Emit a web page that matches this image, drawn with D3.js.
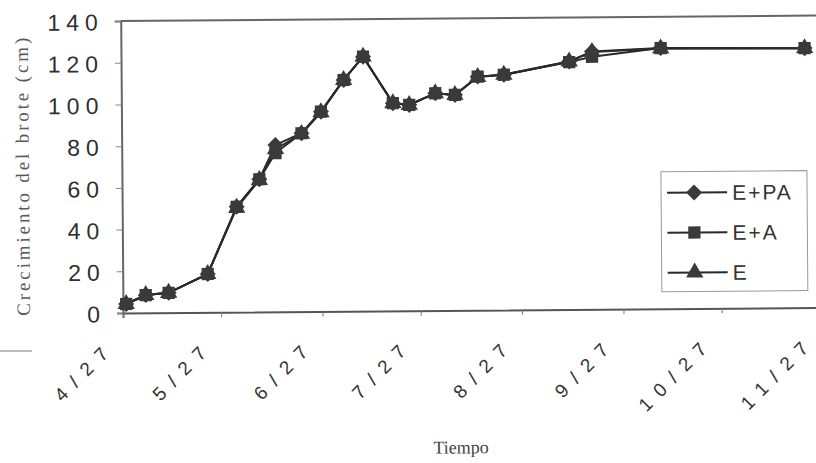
<!DOCTYPE html>
<html><head><meta charset="utf-8">
<script src="https://cdn.jsdelivr.net/npm/d3@7"></script>
<style>
html,body{margin:0;padding:0;background:#fff;}
svg{display:block;}
</style></head>
<body>
<svg id="chart" width="816" height="463"></svg>
<script>
const dates = ["2001-04-28","2001-05-04","2001-05-11","2001-05-23","2001-06-01","2001-06-08","2001-06-13","2001-06-21","2001-06-27","2001-07-04","2001-07-10","2001-07-19","2001-07-24","2001-08-01","2001-08-07","2001-08-14","2001-08-22","2001-09-11","2001-09-18","2001-10-09","2001-11-22"];
const seriesNames = ["E+PA","E+A","E"];
const valuesEPA = [4.3,8.5,9.5,18.4,50.5,63.6,80,85.5,95.8,110.9,122,99.6,98.7,104.2,103.3,112,112.8,118.9,123.6,125,124.4];
const valuesEA  = [4.3,8.5,9.5,18.4,50.5,63.6,76.1,85.5,95.8,110.9,122,99.6,98.7,104.2,103.3,112,112.8,118.6,121.1,125,124.4];
const valuesE   = [4.3,8.5,9.5,18.4,50,63.2,78,85.2,95.5,110.9,122,99.6,98.7,104.2,103.3,111.8,112.8,118.9,123.4,124.8,124.4];
const yTicks = [0,20,40,60,80,100,120,140];
const xTickLabels = ["4/27","5/27","6/27","7/27","8/27","9/27","10/27","11/27"];
const xTickDates = ["2001-04-27","2001-05-27","2001-06-27","2001-07-27","2001-08-27","2001-09-27","2001-10-27","2001-11-27"];
const yTitle = "Crecimiento del brote (cm)";
const xTitle = "Tiempo";

const parse = d3.timeParse("%Y-%m-%d");
const svg = d3.select("#chart");
const L = 123, R = 823, T = 21, B = 313;
const x = d3.scaleTime().domain([parse(xTickDates[0]), parse(xTickDates[xTickDates.length-1])]).range([L, R]);
const y = d3.scaleLinear().domain([0,140]).range([B, T]);

const g = svg.append("g").attr("transform", `rotate(-0.45 ${L} ${B})`);

// stray scan mark
svg.append("line").attr("x1",0).attr("x2",32).attr("y1",351).attr("y2",351)
  .attr("stroke","#bbb").attr("stroke-width",2);

// frame
g.append("line").attr("x1",L).attr("x2",R).attr("y1",T).attr("y2",T).attr("stroke","#666").attr("stroke-width",2);
g.append("line").attr("x1",R).attr("x2",R).attr("y1",T).attr("y2",B).attr("stroke","#666").attr("stroke-width",2);

// y axis
const yAxis = d3.axisLeft(y).tickValues(yTicks).tickSize(6).tickFormat("");
const ya = g.append("g").attr("transform",`translate(${L},0)`).call(yAxis);
ya.select(".domain").attr("stroke","#666").attr("stroke-width",2);
ya.selectAll(".tick line").attr("stroke","#888").attr("stroke-width",1);
g.selectAll(".ylab").data(yTicks).enter().append("text")
  .attr("x",106).attr("y",d=>y(d)+1).attr("dy","0.36em")
  .attr("text-anchor","end")
  .style("font-family","'Liberation Sans', Arial, sans-serif")
  .style("font-size","23px").style("letter-spacing","6px")
  .attr("fill","#2e2e2e").text(d=>d);

// x axis
const xAxis = d3.axisBottom(x).tickValues(xTickDates.map(parse)).tickSize(5).tickFormat("");
const xa = g.append("g").attr("transform",`translate(0,${B})`).call(xAxis);
xa.select(".domain").attr("stroke","#555").attr("stroke-width",2);
xa.selectAll(".tick line").attr("stroke","#777").attr("stroke-width",1);
const xl = g.selectAll(".xlab").data(xTickDates).enter().append("text")
  .attr("transform",(d)=>`translate(${x(parse(d))-14},355) rotate(-45)`)
  .attr("text-anchor","end")
  .style("font-family","'Liberation Sans', Arial, sans-serif")
  .style("font-size","19px")
  .attr("fill","#333");
xl.each(function(d,i){
  const t = d3.select(this);
  xTickLabels[i].split("").forEach((c,k)=>{
    t.append("tspan").attr("dx", k===0?0:10).text(c);
  });
});

// titles
g.append("text").attr("transform","translate(30,176) rotate(-90)")
  .attr("text-anchor","middle")
  .attr("textLength",278).attr("lengthAdjust","spacing")
  .style("font-family","'Liberation Serif', 'Times New Roman', serif")
  .style("font-size","19px").attr("fill","#5a5a5a").text(yTitle);
g.append("text").attr("x",460).attr("y",456).attr("text-anchor","middle")
  .style("font-family","'Liberation Serif', 'Times New Roman', serif")
  .style("font-size","18px").attr("fill","#444").text(xTitle);

// series
const seriesData = [valuesEPA, valuesEA, valuesE];
const markPath = [
  d3.symbol().type(d3.symbolSquare).size(128)(),   // diamond (rotated square)
  d3.symbol().type(d3.symbolSquare).size(150)(),   // square
  d3.symbol().type(d3.symbolTriangle).size(130)()  // triangle
];
const markRot = [45, 0, 0];
const drawOrder = [0, 2, 1];
const line = d3.line().x((d,i)=>x(parse(dates[i]))).y(d=>y(d));
const markColor = "#3a3a3a";
seriesData.forEach((vals) => {
  g.append("path").datum(vals).attr("d", line)
    .attr("fill","none").attr("stroke","#2a2a2a").attr("stroke-width",2);
});
drawOrder.forEach((si) => {
  g.selectAll(".m"+si).data(seriesData[si]).enter().append("path")
    .attr("transform",(d,i)=>`translate(${x(parse(dates[i]))},${y(d)}) rotate(${markRot[si]})`)
    .attr("d", markPath[si])
    .attr("fill",markColor);
});

// legend
const lg = g.append("g").attr("transform","translate(662,176)");
lg.append("rect").attr("x",0).attr("y",0).attr("width",146).attr("height",120)
  .attr("fill","#fff").attr("stroke","#999").attr("stroke-width",1);
seriesNames.forEach((n,i)=>{
  const cy = 21 + i*40;
  lg.append("line").attr("x1",6).attr("x2",66).attr("y1",cy).attr("y2",cy)
    .attr("stroke","#2a2a2a").attr("stroke-width",2);
  lg.append("path").attr("transform",`translate(33,${cy}) rotate(${markRot[i]})`)
    .attr("d", markPath[i]).attr("fill",markColor);
  lg.append("text").attr("x",71).attr("y",cy).attr("dy","0.36em")
    .style("font-family","'Liberation Sans', Arial, sans-serif")
    .style("font-size","21px").style("letter-spacing","2px")
    .attr("fill","#333").text(n);
});
</script>
</body></html>
